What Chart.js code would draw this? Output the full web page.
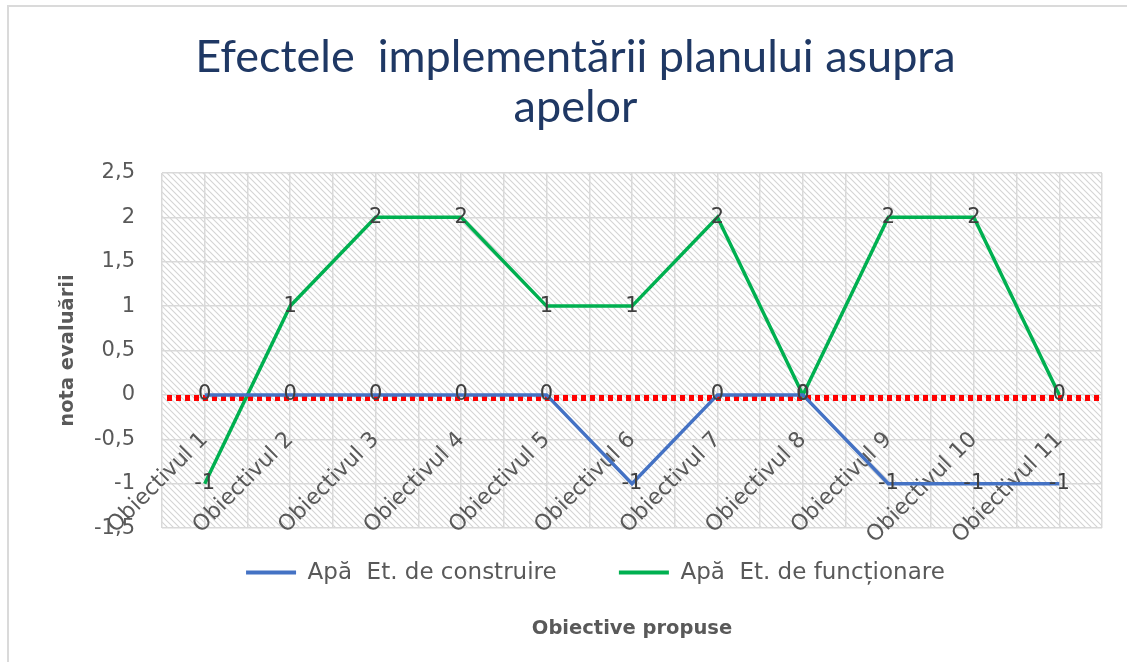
<!DOCTYPE html>
<html>
<head>
<meta charset="utf-8">
<script src="https://cdn.jsdelivr.net/npm/chart.js@4.4.0/dist/chart.umd.min.js"></script>
<style>
html, body { margin: 0; padding: 0; background: #ffffff; }
#wrap { width: 1127px; height: 662px; }
</style>
</head>
<body>
<div id="wrap"><canvas id="c" width="1127" height="662"></canvas></div>
<script>
// ---- data ----
const categories = ['Obiectivul 1', 'Obiectivul 2', 'Obiectivul 3', 'Obiectivul 4', 'Obiectivul 5', 'Obiectivul 6',
  'Obiectivul 7', 'Obiectivul 8', 'Obiectivul 9', 'Obiectivul 10', 'Obiectivul 11'];
const constructionValues = [0, 0, 0, 0, 0, -1, 0, 0, -1, -1, -1];
const operationValues = [-1, 1, 2, 2, 1, 1, 2, 0, 2, 2, 0];
const seriesLabels = ['Apă  Et. de construire', 'Apă  Et. de funcționare'];
const titleLines = ['Efectele  implementării planului asupra', 'apelor'];
const yAxisTitle = 'nota evaluării';
const xAxisTitle = 'Obiective propuse';
const yRange = [-1.5, 2.5];
const yStep = 0.5;
const referenceValue = 0;

const GRAY = '#595959';

const backgroundPlugin = {
  id: 'backgroundHatch',
  beforeDraw(chart) {
    const { ctx, chartArea: a } = chart;
    ctx.save();
    ctx.fillStyle = '#ffffff';
    ctx.fillRect(0, 0, chart.width, chart.height);
    ctx.strokeStyle = '#dadada';
    ctx.lineWidth = 2;
    ctx.strokeRect(8, 6, chart.width + 20, chart.height + 20);
    const p = document.createElement('canvas');
    p.width = 6; p.height = 6;
    const pc = p.getContext('2d');
    pc.strokeStyle = '#d4d4d4';
    pc.lineWidth = 1.1;
    pc.beginPath();
    pc.moveTo(-1, -1); pc.lineTo(7, 7);
    pc.moveTo(-1, 5); pc.lineTo(1, 7);
    pc.moveTo(5, -1); pc.lineTo(7, 1);
    pc.stroke();
    ctx.fillStyle = ctx.createPattern(p, 'repeat');
    ctx.fillRect(a.left, a.top, a.right - a.left, a.bottom - a.top);
    ctx.restore();
  }
};

const referenceLinePlugin = {
  id: 'referenceLine',
  beforeDatasetsDraw(chart) {
    const { ctx, chartArea: a, scales } = chart;
    const y = scales.y.getPixelForValue(referenceValue) + 3;
    ctx.save();
    ctx.strokeStyle = '#ff0000';
    ctx.lineWidth = 6;
    ctx.setLineDash([5, 4]);
    ctx.beginPath();
    ctx.moveTo(a.left + 5, y);
    ctx.lineTo(a.right - 1, y);
    ctx.stroke();
    ctx.restore();
  }
};

const dataLabelPlugin = {
  id: 'dataLabels',
  afterDatasetsDraw(chart) {
    const { ctx } = chart;
    ctx.save();
    ctx.fillStyle = '#404040';
    ctx.font = '21px "DejaVu Sans"';
    ctx.textAlign = 'center';
    ctx.textBaseline = 'middle';
    chart.data.datasets.forEach((ds, i) => {
      const meta = chart.getDatasetMeta(i);
      meta.data.forEach((pt, j) => {
        ctx.fillText(String(ds.data[j]), pt.x, pt.y);
      });
    });
    ctx.restore();
  }
};

const legendPadding = 33;

new Chart(document.getElementById('c'), {
  type: 'line',
  data: {
    labels: categories,
    datasets: [
      {
        label: seriesLabels[0],
        data: constructionValues,
        borderColor: '#4472C4',
        backgroundColor: '#4472C4',
        borderWidth: 3.5,
        pointRadius: 0,
        tension: 0,
        xAxisID: 'x',
        yAxisID: 'y'
      },
      {
        label: seriesLabels[1],
        data: operationValues,
        borderColor: '#00B050',
        backgroundColor: '#00B050',
        borderWidth: 3.5,
        pointRadius: 0,
        tension: 0,
        xAxisID: 'x',
        yAxisID: 'y'
      }
    ]
  },
  options: {
    responsive: false,
    animation: false,
    devicePixelRatio: 1,
    layout: { padding: { left: 49, right: 25, top: 0, bottom: 17 } },
    plugins: {
      title: {
        display: true,
        text: titleLines,
        color: '#1F3864',
        font: { family: 'Lato', size: 45, weight: 'normal', lineHeight: 1.11 },
        padding: { top: 33, bottom: 40 }
      },
      legend: {
        position: 'bottom',
        fullSize: false,
        labels: {
          color: GRAY,
          font: { family: 'DejaVu Sans', size: 23 },
          boxWidth: 50,
          boxHeight: 4,
          padding: legendPadding,
          generateLabels(chart) {
            const items = Chart.defaults.plugins.legend.labels.generateLabels(chart);
            return items.map((it, idx) => Object.assign({}, it, {
              text: it.text + (idx === 0 ? '    ' : '          '),
              lineWidth: 0,
              fillStyle: it.strokeStyle
            }));
          }
        }
      },
      tooltip: { enabled: false }
    },
    scales: {
      x: {
        type: 'category',
        position: { y: referenceValue },
        offset: true,
        grid: { display: false, drawTicks: false },
        border: { display: false },
        ticks: {
          autoSkip: false,
          maxRotation: 45,
          minRotation: 45,
          padding: 32,
          color: GRAY,
          font: { family: 'DejaVu Sans', size: 22 }
        }
      },
      x2: {
        type: 'linear',
        position: 'bottom',
        weight: 2000,
        min: -0.5,
        max: categories.length - 0.5,
        ticks: { display: false, stepSize: 0.5 },
        grid: { color: '#d9d9d9', lineWidth: 1.5, drawTicks: false },
        border: { display: false },
        title: {
          display: true,
          text: xAxisTitle,
          color: GRAY,
          font: { family: 'DejaVu Sans', size: 19.5, weight: 'bold' },
          padding: { top: 23.5, bottom: 4 }
        }
      },
      y: {
        type: 'linear',
        position: 'left',
        min: yRange[0],
        max: yRange[1],
        ticks: {
          stepSize: yStep,
          padding: 27,
          color: GRAY,
          font: { family: 'DejaVu Sans', size: 21 },
          callback: (v) => String(v).replace('.', ',')
        },
        grid: { color: '#d9d9d9', lineWidth: 1.5, drawTicks: false },
        border: { display: false },
        title: {
          display: true,
          text: yAxisTitle,
          color: GRAY,
          font: { family: 'DejaVu Sans', size: 19.5, weight: 'bold' },
          padding: { top: 7, bottom: 0 }
        },
        afterFit(scale) { scale.width = 113; }
      }
    }
  },
  plugins: [backgroundPlugin, referenceLinePlugin, dataLabelPlugin]
});
</script>
</body>
</html>
